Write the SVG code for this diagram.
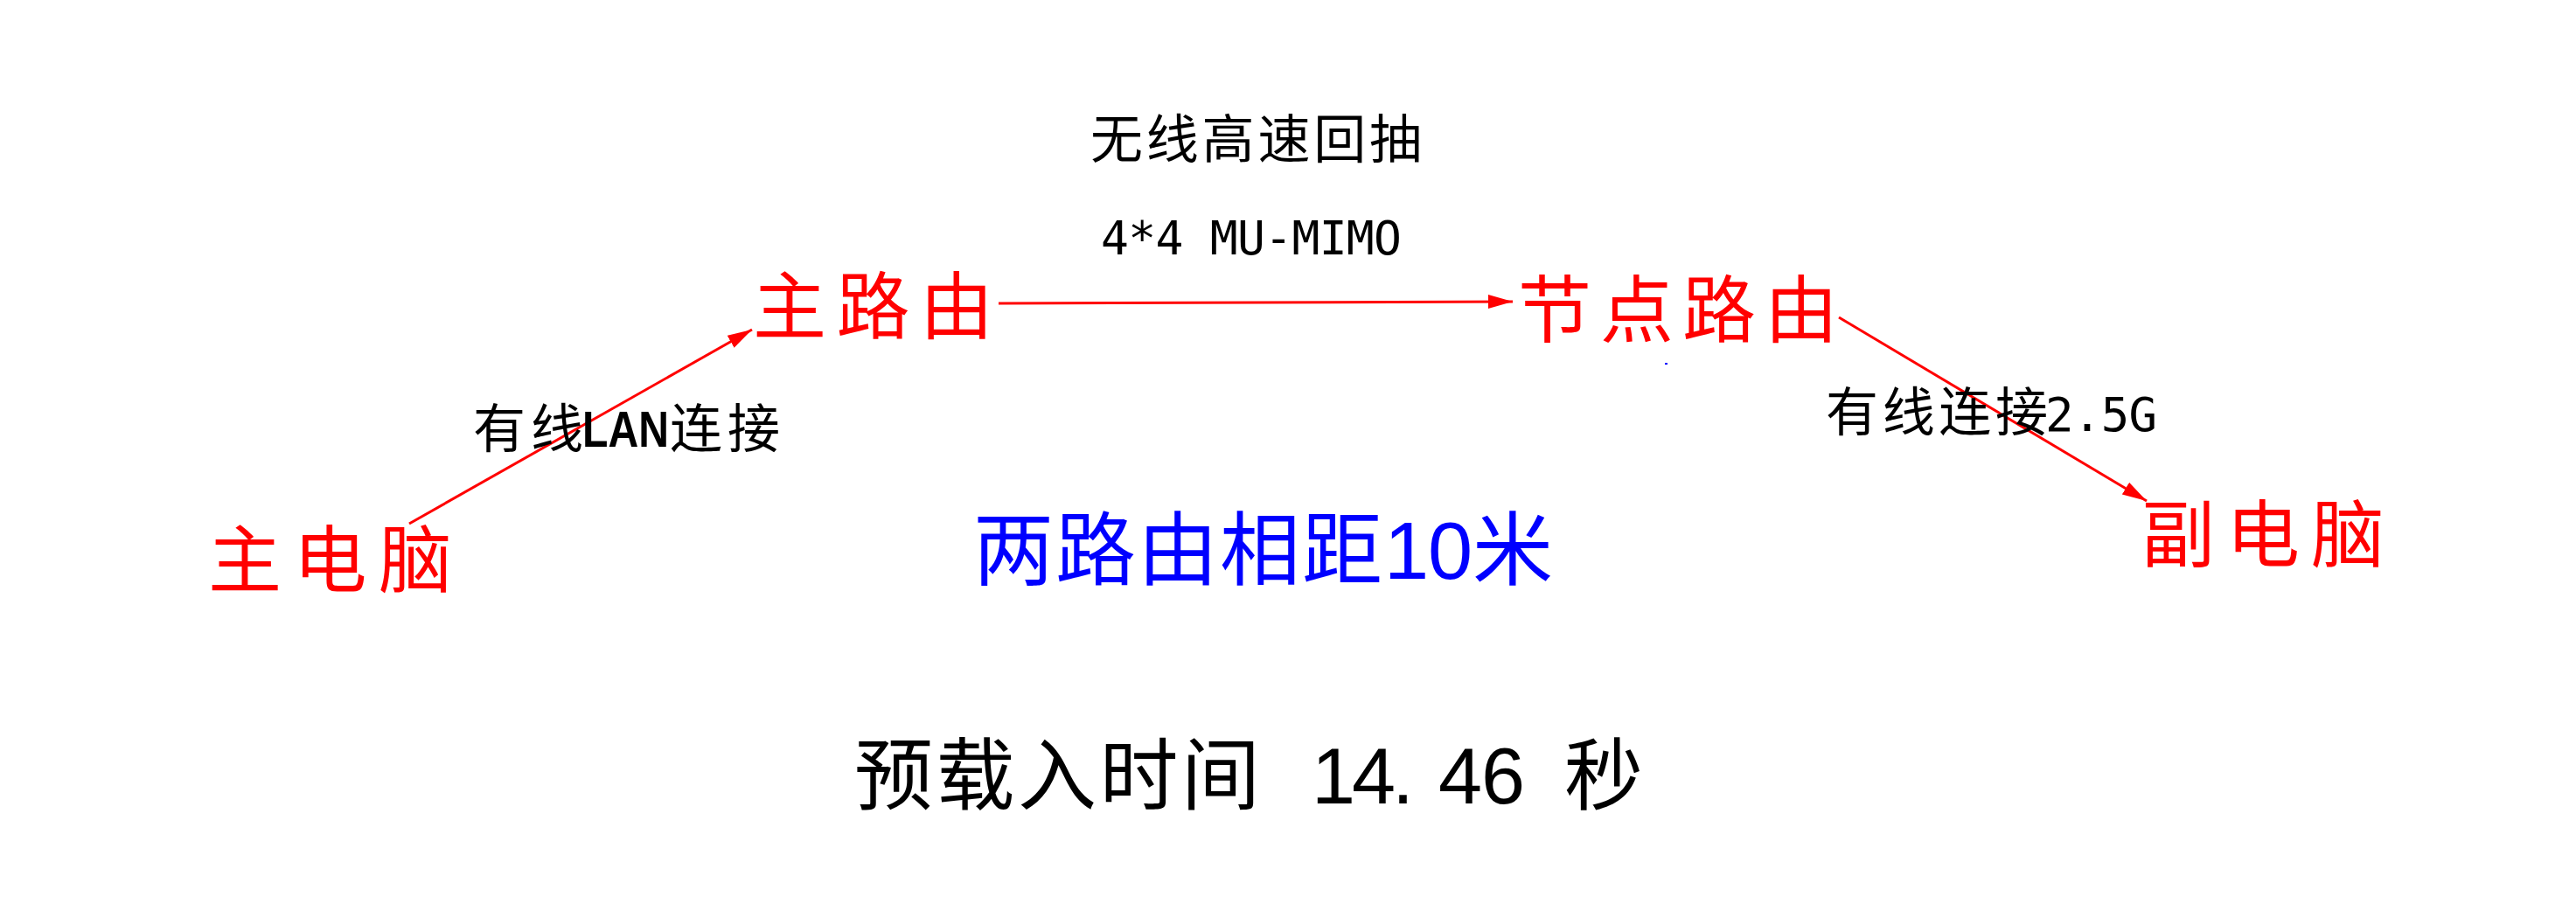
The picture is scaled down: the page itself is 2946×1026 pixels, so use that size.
<svg xmlns="http://www.w3.org/2000/svg" width="2946" height="1026" viewBox="0 0 2946 1026">
  <style>
    .cjk { font-family: "Noto Sans CJK SC", sans-serif; }
    .lat { font-family: "Liberation Sans", Arial, sans-serif; }
    .mono { font-family: "DejaVu Sans Mono", "Liberation Mono", monospace; }
    .red { fill: #ff0000; }
    .blk { fill: #000000; }
    .blue { fill: #0000ff; }
    .conn { stroke: #ff0000; stroke-width: 3; fill: none; }
  </style>
  <defs>
    <marker id="arrow" markerUnits="userSpaceOnUse" markerWidth="30" markerHeight="18" refX="28" refY="8" orient="auto">
      <path d="M0,0 L28,8 L0,16 z" fill="#ff0000"/>
    </marker>
  </defs>
  <rect x="0" y="0" width="2946" height="1026" fill="#ffffff"/>

  <g id="connectors">
    <line class="conn" x1="468" y1="599" x2="860" y2="377" marker-end="url(#arrow)"/>
    <line class="conn" x1="1142" y1="347" x2="1730" y2="345" marker-end="url(#arrow)"/>
    <line class="conn" x1="2103" y1="363" x2="2455" y2="573" marker-end="url(#arrow)"/>
  </g>

  <g id="node-main-pc">
    <text class="cjk red" x="238" y="671" font-size="84" textLength="279">主电脑</text>
  </g>
  <g id="node-main-router">
    <text class="cjk red" x="861" y="381" font-size="84" textLength="275">主路由</text>
  </g>
  <g id="node-node-router">
    <text class="cjk red" x="1736" y="385" font-size="84" textLength="366">节点路由</text>
  </g>
  <g id="node-sub-pc">
    <text class="cjk red" x="2449" y="642" font-size="84" textLength="278">副电脑</text>
  </g>

  <g id="label-wireless">
    <text class="cjk blk" x="1247" y="181" font-size="60" textLength="379">无线高速回抽</text>
    <text class="mono blk" x="1259" y="291" font-size="53" textLength="344">4*4 MU-MIMO</text>
  </g>

  <g id="label-lan">
    <text class="cjk blk" x="541" y="512" font-size="60" textLength="126">有线</text>
    <text class="lat blk" font-weight="bold" font-size="58" transform="translate(666,511) scale(0.83,1)">LAN</text>
    <text class="cjk blk" x="766" y="512" font-size="60" textLength="126">连接</text>
  </g>

  <g id="label-25g">
    <text class="cjk blk" x="2088" y="493" font-size="60" textLength="254">有线连接</text>
    <text class="mono blk" x="2339" y="493" font-size="54" textLength="128">2.5G</text>
  </g>

  <g id="label-distance">
    <text class="cjk blue" x="1113" y="662" font-size="92" textLength="468">两路由相距</text>
    <text class="lat blue" y="662" font-size="92" x="1583 1633">10</text>
    <text class="cjk blue" x="1684" y="662" font-size="92">米</text>
  </g>

  <g id="label-time">
    <text class="cjk blk" x="977" y="919" font-size="90" textLength="464">预载入时间</text>
    <text class="lat blk" y="919" font-size="90" x="1500 1546 1592 1645 1694">14.46</text>
    <text class="cjk blk" x="1789" y="919" font-size="90">秒</text>
  </g>

  <rect x="1904" y="415" width="3" height="2" fill="#0000ff"/>
</svg>
